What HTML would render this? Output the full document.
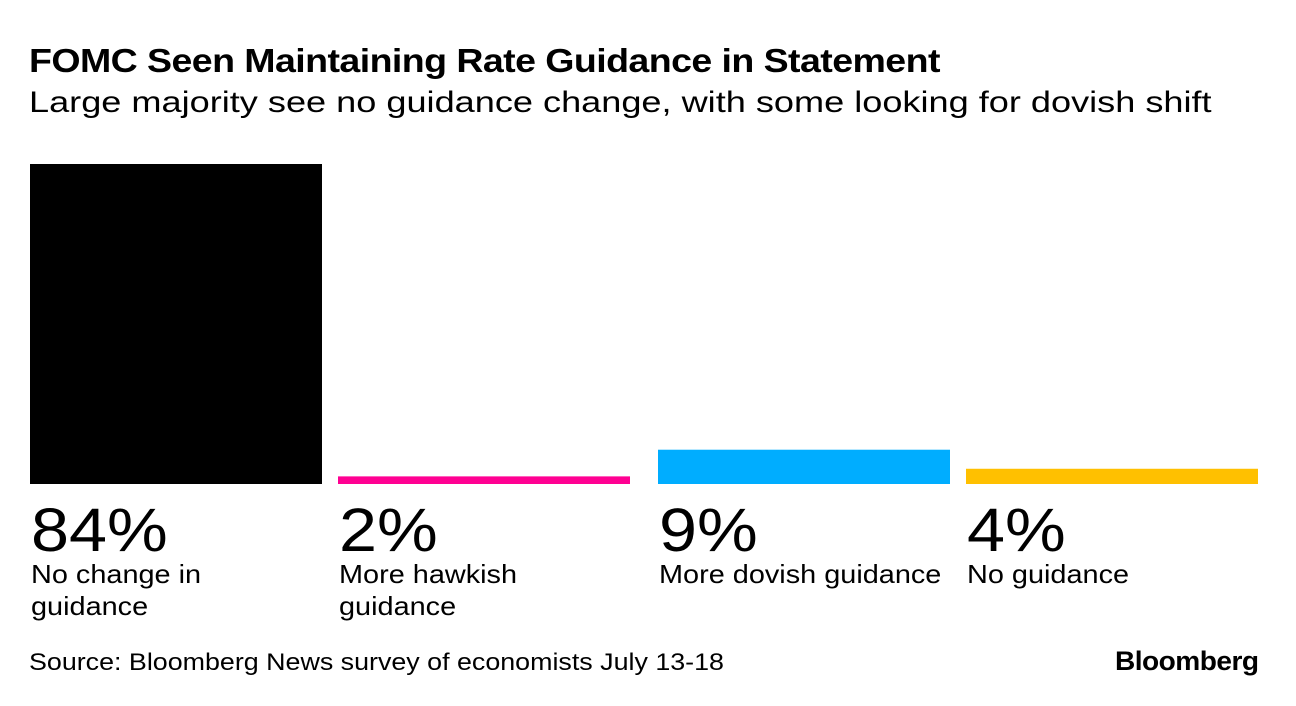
<!DOCTYPE html>
<html><head><meta charset="utf-8"><style>
body{margin:0;width:1296px;height:706px;background:#fff;font-family:"Liberation Sans",sans-serif;overflow:hidden;position:relative}
.t{position:absolute;white-space:nowrap;color:#000;transform-origin:0 0}
</style></head><body>
<div class="t" style="left:29px;top:42px;font-size:33px;font-weight:bold;letter-spacing:-0.5px;transform:scaleX(1.137)">FOMC Seen Maintaining Rate Guidance in Statement</div>
<div class="t" style="left:29px;top:86px;font-size:30px;transform:scaleX(1.204)">Large majority see no guidance change, with some looking for dovish shift</div>
<svg id="chart" width="1296" height="706" style="position:absolute;left:0;top:0"></svg>
<div class="t" style="left:29px;top:649px;font-size:24px;transform:scaleX(1.118)">Source: Bloomberg News survey of economists July 13-18</div>
<div class="t" style="left:1115px;top:646px;font-size:27px;font-weight:bold;letter-spacing:-0.5px;transform:scaleX(1.04)">Bloomberg</div>
<script>
const categories=[["No change in","guidance"],["More hawkish","guidance"],["More dovish guidance"],["No guidance"]];
const values=[84,2,9,4];
const valueLabels=["84%","2%","9%","4%"];
const colors=["#000000","#ff0092","#00adff","#ffc000"];
const svg=document.getElementById('chart');
const NS="http://www.w3.org/2000/svg";
const base=484, pxPerPct=320/84, left=30, step=308, midGap=12, bw=292;
const y=v=>base-v*pxPerPct;
const x=i=>left+i*step+(i>=2?midGap:0);
function stretch(el,f){const w=el.getComputedTextLength();el.setAttribute('textLength',w*f);el.setAttribute('lengthAdjust','spacingAndGlyphs');}
values.forEach((v,i)=>{
  const r=document.createElementNS(NS,'rect');
  
  
  r.setAttribute('x',x(i));r.setAttribute('y',y(v));r.setAttribute('width',bw);r.setAttribute('height',base-y(v));r.setAttribute('fill',colors[i]);
  svg.appendChild(r);
  const t=document.createElementNS(NS,'text');
  
  
  t.setAttribute('x',x(i)+1);t.setAttribute('y',551);t.setAttribute('font-size','61');t.setAttribute('font-family','Liberation Sans, sans-serif');
  t.textContent=valueLabels[i];svg.appendChild(t);
  stretch(t,1.12);
  categories[i].forEach((line,j)=>{
    const c=document.createElementNS(NS,'text');
    
    
    c.setAttribute('x',x(i)+1);c.setAttribute('y',583+j*32);c.setAttribute('font-size','26');c.setAttribute('font-family','Liberation Sans, sans-serif');
    c.textContent=line;svg.appendChild(c);
    stretch(c,1.11);
  });
});
</script>
</body></html>
